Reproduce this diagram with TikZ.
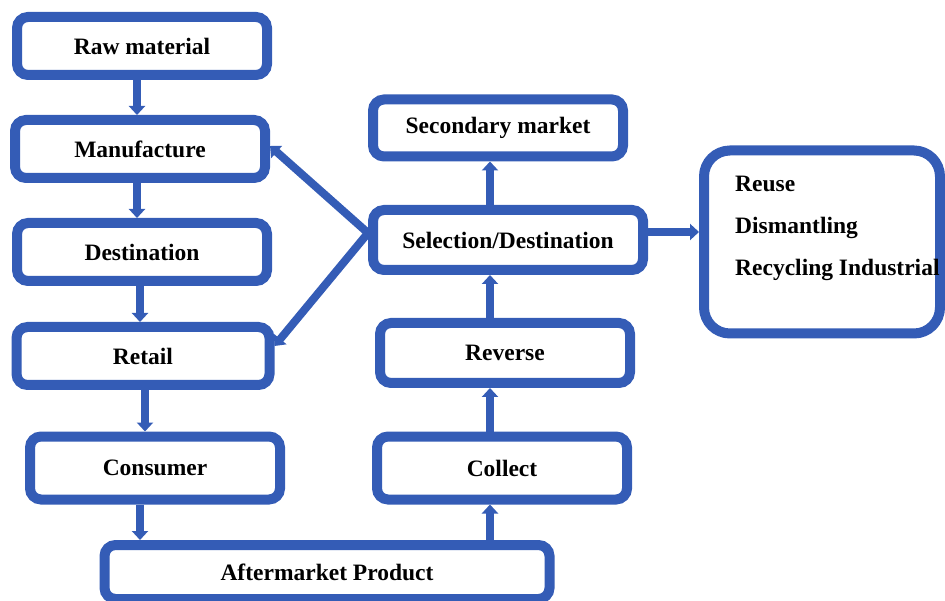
\documentclass[tikz,border=0pt]{standalone}
\usepackage{fontspec}
\setmainfont{Liberation Serif}
\usetikzlibrary{arrows.meta}
\definecolor{flowblue}{RGB}{52,92,182}
\begin{document}
\begin{tikzpicture}[x=1pt,y=-1pt,
  stage/.style={draw=flowblue, line width=10pt, rounded corners=11pt, fill=white,
    minimum width=250pt, minimum height=58pt, inner sep=0pt,
    font=\bfseries\fontsize{23.5}{26}\selectfont},
  flow/.style={draw=flowblue, line width=8pt,
    -{Triangle[width=16pt,length=9pt]}}]
\useasboundingbox (0,0) rectangle (945,601);

% supply chain, left column
\node[stage] (raw)     at (142,46)  {Raw material};
\node[stage] (manuf)   at (140,149) {Manufacture};
\node[stage] (dest)    at (142,252) {Destination};
\node[stage, minimum width=253pt] (retail) at (143,356) {Retail};
\node[stage, minimum height=63pt] (consumer) at (155,468) {Consumer};
\node[stage, minimum width=445pt, minimum height=54pt] (after) at (327,572) {Aftermarket Product};

% reverse chain, right column
\node[stage, minimum height=63pt] (collect) at (502,468) {Collect};
\node[stage, minimum height=60pt] (reverse) at (505,353) {Reverse};
\node[stage, minimum width=270pt, minimum height=60pt] (select) at (508,240) {Selection/Destination};
\node[stage, minimum height=57pt] (second) at (498,128) {Secondary market};

% outcome box
\node[stage, rounded corners=26pt, minimum width=236pt, minimum height=183pt] (outcome) at (822,242) {};
\node[anchor=west, align=left, inner sep=0pt,
  font=\bfseries\fontsize{23.5}{42}\selectfont] (outtext) at (735,228)
  {Reuse\\Dismantling\\Recycling Industrial};

% forward flow
\draw[flow] ([xshift=-5pt]raw.south) -- ([xshift=-5pt]raw.south |- manuf.north);
\draw[flow] ([xshift=-3pt]manuf.south) -- ([xshift=-3pt]manuf.south |- dest.north);
\draw[flow] ([xshift=-2pt]dest.south) -- ([xshift=-2pt]dest.south |- retail.north);
\draw[flow] ([xshift=2pt]retail.south) -- ([xshift=2pt]retail.south |- consumer.north);
\draw[flow] ([xshift=-15pt]consumer.south) -- ([xshift=-15pt]consumer.south |- after.north);

% reverse flow
\draw[flow] ([xshift=-12pt]collect.south |- after.north) -- ([xshift=-12pt]collect.south);
\draw[flow] ([xshift=-12pt]collect.north) -- ([xshift=-12pt]collect.north |- reverse.south);
\draw[flow] ([xshift=-15pt]reverse.north) -- ([xshift=-15pt]reverse.north |- select.south);
\draw[flow] ([xshift=-18pt]select.north) -- ([xshift=-18pt]select.north |- second.south);
\draw[flow] ([yshift=8pt]select.east) -- ([yshift=8pt]select.east -| outcome.west);

% return to the forward chain
\draw[flow] ([yshift=7pt]select.west) -- ([yshift=3pt]manuf.east);
\draw[flow] ([yshift=7pt]select.west) -- ([yshift=10pt]retail.east);
\end{tikzpicture}
\end{document}
